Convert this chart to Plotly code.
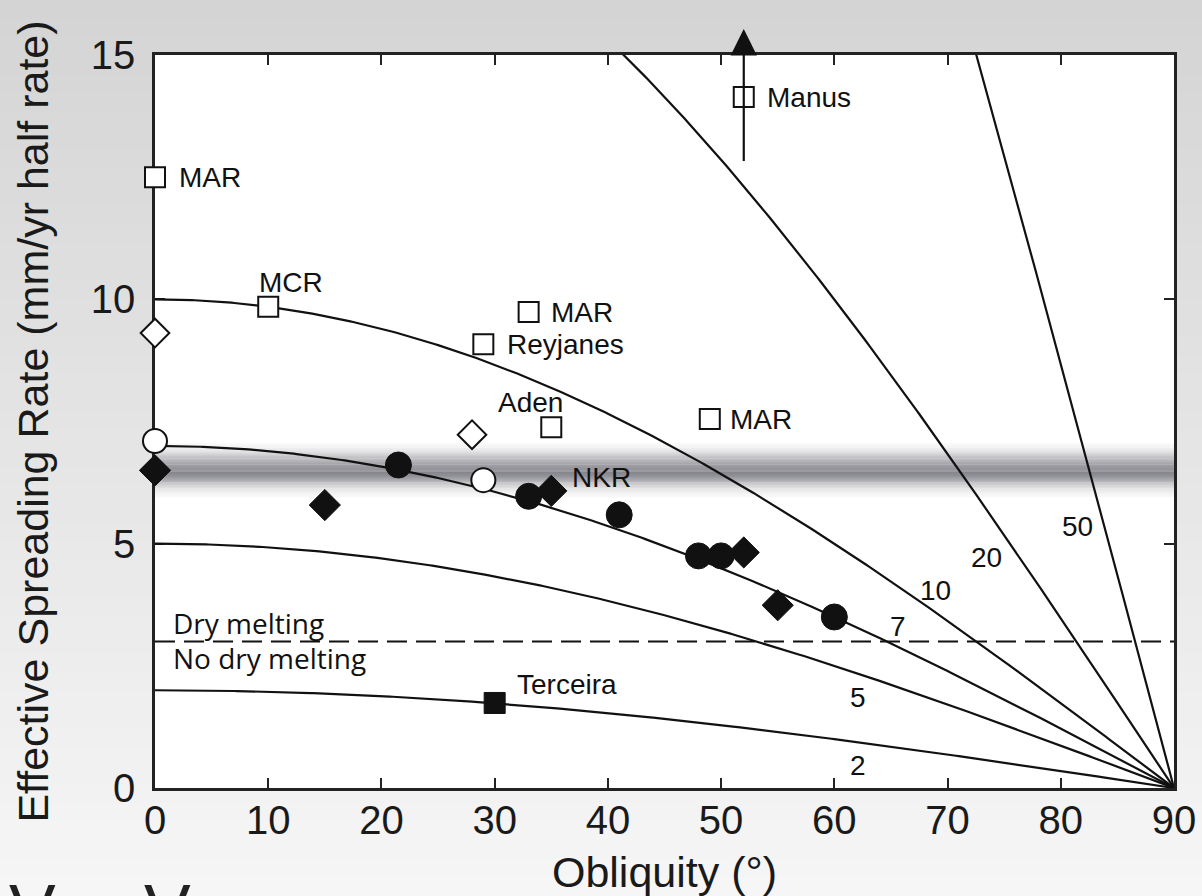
import numpy as np
import plotly.graph_objects as go

# ---------------- data ----------------
# contour labels: spreading rate (mm/yr half rate) at zero obliquity
full_rates = [2, 5, 7, 10, 20, 50]
dry_melting_threshold = 3.0
band_center = 6.5          # grey band (effective rate)
band_halfwidth = 0.55

open_sq_x = [0, 10, 33, 29, 35, 49, 52]
open_sq_y = [12.5, 9.85, 9.74, 9.08, 7.38, 7.55, 14.14]
open_sq_labels = ["MAR", "MCR", "MAR", "Reyjanes", "Aden", "MAR", "Manus"]

filled_sq_x = [30]
filled_sq_y = [1.74]
filled_sq_labels = ["Terceira"]

filled_circ_x = [21.5, 33, 41, 48, 50, 60]
filled_circ_y = [6.61, 5.97, 5.59, 4.75, 4.75, 3.5]

open_circ_x = [0, 29]
open_circ_y = [7.1, 6.3]

filled_dia_x = [0, 15, 35, 52, 55]
filled_dia_y = [6.5, 5.79, 6.08, 4.82, 3.74]
nkr_label = "NKR"   # attached to the diamond at 35 deg

open_dia_x = [0, 28]
open_dia_y = [9.31, 7.23]

manus_lower = 12.8     # lower end of Manus range line
manus_upper = 15.53    # arrow tip (beyond axis)

x_ticks = [0, 10, 20, 30, 40, 50, 60, 70, 80, 90]
y_ticks = [0, 5, 10, 15]

# ---------------- placement (styles) ----------------
open_sq_offsets = [  # xshift, yshift, xanchor
    (22, 0, "left"), (23, 24, "center"), (20, 0, "left"), (22, 0, "left"),
    (-21, 25, "center"), (18, 0, "left"), (21, 0, "left")]
curve_label_pos = {2: (62.1, 0.47), 5: (62.1, 1.86), 7: (65.6, 3.3),
                   10: (68.9, 4.05), 20: (73.4, 4.71), 50: (81.5, 5.36)}

FONT = "Liberation Sans, Arial, sans-serif"
INK = "#111111"

fig = go.Figure()

# contour curves: effective rate = rate * cos(obliquity)
theta = np.linspace(0, 90, 361)
for r in full_rates:
    fig.add_trace(go.Scatter(x=theta, y=r * np.cos(np.radians(theta)), mode="lines",
                             line=dict(color=INK, width=2.2), hoverinfo="skip",
                             showlegend=False))

# dry melting threshold
fig.add_trace(go.Scatter(x=[0, 90], y=[dry_melting_threshold] * 2, mode="lines",
                         line=dict(color=INK, width=2, dash="20px,9px"),
                         showlegend=False, hoverinfo="skip"))

common = dict(mode="markers", cliponaxis=False, showlegend=False)
fig.add_trace(go.Scatter(x=open_sq_x, y=open_sq_y,
                         marker=dict(symbol="square", size=20, color="white",
                                     line=dict(color=INK, width=2)), **common))
fig.add_trace(go.Scatter(x=filled_sq_x, y=filled_sq_y,
                         marker=dict(symbol="square", size=21, color=INK,
                                     line=dict(color=INK, width=1)), **common))
fig.add_trace(go.Scatter(x=open_dia_x, y=open_dia_y,
                         marker=dict(symbol="diamond", size=22, color="white",
                                     line=dict(color=INK, width=2)), **common))
fig.add_trace(go.Scatter(x=open_circ_x, y=open_circ_y,
                         marker=dict(symbol="circle", size=24, color="white",
                                     line=dict(color=INK, width=2)), **common))
fig.add_trace(go.Scatter(x=filled_circ_x, y=filled_circ_y,
                         marker=dict(symbol="circle", size=26, color=INK,
                                     line=dict(color=INK, width=1)), **common))
fig.add_trace(go.Scatter(x=filled_dia_x, y=filled_dia_y,
                         marker=dict(symbol="diamond", size=24, color=INK,
                                     line=dict(color=INK, width=1)), **common))

# ---------------- annotations ----------------
ann = []
mi = open_sq_labels.index("Manus")
# Manus range: line from lower bound up through the point to an arrow beyond the axis
ann.append(dict(x=open_sq_x[mi], y=manus_upper, ax=open_sq_x[mi], ay=manus_lower,
                xref="x", yref="y", axref="x", ayref="y", text="", showarrow=True,
                arrowhead=2, arrowsize=2.4, arrowwidth=2.2, arrowcolor=INK,
                standoff=0, startstandoff=0))
for x, y, t, (dx, dy, xa) in zip(open_sq_x, open_sq_y, open_sq_labels, open_sq_offsets):
    ann.append(dict(x=x, y=y, text=t, showarrow=False, xanchor=xa, yanchor="middle",
                    xshift=dx, yshift=dy, font=dict(family=FONT, size=28, color=INK)))
ann.append(dict(x=filled_sq_x[0], y=filled_sq_y[0], text=filled_sq_labels[0], showarrow=False,
                xanchor="left", yanchor="middle", xshift=20, yshift=18,
                font=dict(family=FONT, size=28, color=INK)))
ni = filled_dia_x.index(35)
ann.append(dict(x=filled_dia_x[ni], y=filled_dia_y[ni], text=nkr_label, showarrow=False,
                xanchor="left", yanchor="middle", xshift=19, yshift=13,
                font=dict(family=FONT, size=28, color=INK)))
for r in full_rates:
    lx, ly = curve_label_pos[r]
    ann.append(dict(x=lx, y=ly, text=str(r), showarrow=False, xanchor="center",
                    yanchor="middle", font=dict(family=FONT, size=28, color=INK)))
ann.append(dict(x=1.4, y=dry_melting_threshold, text="Dry melting", showarrow=False,
                xanchor="left", yanchor="middle", yshift=18,
                font=dict(family="Open Sans, sans-serif", size=28, color=INK)))
ann.append(dict(x=1.4, y=dry_melting_threshold, text="No dry melting", showarrow=False,
                xanchor="left", yanchor="middle", yshift=-17,
                font=dict(family="Open Sans, sans-serif", size=28, color=INK)))
# cut-off slide text at the very bottom
for px in [-0.1207, 0.0118]:
    ann.append(dict(xref="paper", yref="paper", x=px, y=-0.111, text="V", showarrow=False,
                    xanchor="center", yanchor="top",
                    font=dict(family=FONT, size=70, color="#222222")))

# ---------------- shapes: background gradient, plot area, grey band ----------------
shapes = []
W, H = 1202, 896
L, R, T, B = 155, 28, 55, 108
pw, ph = W - L - R, H - T - B
def px2paper_y(py):
    return (H - B - py) / ph
x0p, x1p = -L / pw, 1 + R / pw
n = 48
for i in range(n):
    y_top = i * H / n
    y_bot = (i + 1) * H / n + 1
    f = (i + 0.5) / n
    c = int(round(0xd4 + (0xf6 - 0xd4) * f))
    shapes.append(dict(type="rect", xref="paper", yref="paper", x0=x0p, x1=x1p,
                       y0=px2paper_y(y_bot), y1=px2paper_y(y_top), layer="below",
                       line=dict(width=0), fillcolor=f"rgb({c},{c},{c})"))
shapes.append(dict(type="rect", xref="paper", yref="paper", x0=0, x1=1, y0=0, y1=1,
                   layer="below", line=dict(width=0), fillcolor="white"))
nb = 56
edges = np.linspace(band_center - band_halfwidth, band_center + band_halfwidth, nb + 1)
for i in range(nb):
    mid = 0.5 * (edges[i] + edges[i + 1])
    d = (mid - band_center) / 0.32
    k = np.exp(-d * d)
    rr = int(round(255 - (255 - 132) * k))
    bb = int(round(255 - (255 - 139) * k))
    shapes.append(dict(type="rect", xref="x", yref="y", x0=0, x1=90,
                       y0=edges[i], y1=edges[i + 1] + 0.004, layer="below",
                       line=dict(width=0), fillcolor=f"rgb({rr},{rr},{bb})"))

axis_common = dict(showline=True, linewidth=2.5, linecolor="#222222", mirror="allticks",
                   ticks="inside", ticklen=10, tickwidth=2, tickcolor="#222222",
                   showgrid=False, zeroline=False, layer="below traces",
                   tickfont=dict(family=FONT, size=40, color="#1a1a1a"))

fig.update_layout(
    width=W, height=H, autosize=False,
    margin=dict(l=L, r=R, t=T, b=B, autoexpand=False),
    paper_bgcolor="#e6e6e6", plot_bgcolor="rgba(0,0,0,0)",
    shapes=shapes, annotations=ann,
    xaxis=dict(range=[0, 90], tickvals=x_ticks, ticklabelstandoff=-5,
               title=dict(text="Obliquity (°)", standoff=33,
                          font=dict(family=FONT, size=43, color="#1a1a1a")),
               **axis_common),
    yaxis=dict(range=[0, 15], tickvals=y_ticks, ticklabelstandoff=9,
               title=dict(text="Effective Spreading Rate (mm/yr half rate)", standoff=29,
                          font=dict(family=FONT, size=43, color="#1a1a1a")),
               **axis_common),
)

fig.write_html("out.html")
